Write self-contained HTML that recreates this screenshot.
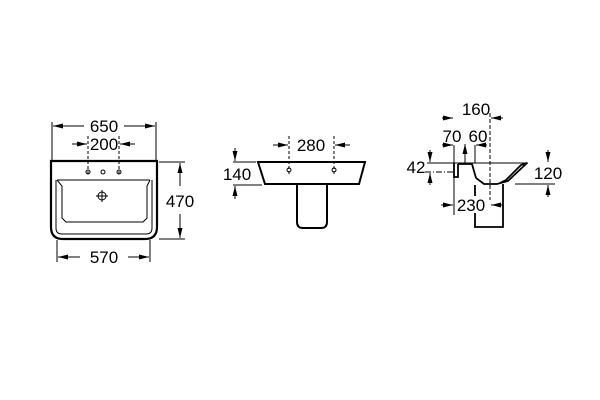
<!DOCTYPE html>
<html><head><style>body{margin:0;background:#fff}svg{display:block}text{font-family:"Liberation Sans",sans-serif;font-size:17px;fill:#000}</style></head><body>
<svg width="600" height="400" viewBox="0 0 600 400">
<defs><marker id="a" viewBox="0 0 10 6" refX="10" refY="3" markerWidth="10" markerHeight="6" markerUnits="userSpaceOnUse" orient="auto-start-reverse"><path d="M0,0.5L10,3L0,5.5z" fill="#000"/></marker></defs>
<g fill="none" stroke="#000" stroke-width="1">
<!-- front view -->
<path d="M51,161H157V227Q157,239 145,239H63Q51,239 51,227Z" stroke-width="2.2"/>
<path d="M57,180H150M57,180L62,186V218L66,222H143L147,218V186L150,180M56,180V228Q56,234 62,234H146Q152,234 152,228V180"/>
<circle cx="102" cy="196" r="4"/><path d="M96,196H108M102,190V202"/>
<circle cx="88" cy="172" r="2"/><circle cx="103" cy="172" r="2"/><circle cx="119" cy="172" r="2"/>
<path d="M52,122V160M156,122V160"/>
<path d="M84,126H53" marker-end="url(#a)"/><path d="M124,126H155" marker-end="url(#a)"/>
<path d="M88,136V175M119,136V175" stroke-dasharray="3,2"/>
<path d="M72,144H87" marker-end="url(#a)"/><path d="M135,144H120" marker-end="url(#a)"/>
<path d="M159,162H185M159,239H185"/>
<path d="M180,186V163" marker-end="url(#a)"/><path d="M180,214V238" marker-end="url(#a)"/>
<path d="M57,240V262M150,240V262"/>
<path d="M80,257H58" marker-end="url(#a)"/><path d="M128,257H149" marker-end="url(#a)"/>
<!-- side view -->
<path d="M258,162H365L359,184H265Z" stroke-width="2"/>
<path d="M297,185V222Q297,228 303,228H321Q327,228 327,222V185" stroke-width="2"/>
<path d="M289,136V174M334,136V174" stroke-dasharray="3,2"/>
<circle cx="289" cy="170" r="2"/><circle cx="334" cy="170" r="2"/>
<path d="M273,145H288" marker-end="url(#a)"/><path d="M350,145H335" marker-end="url(#a)"/>
<path d="M233,162H256M233,185H262"/>
<path d="M235,148V161" marker-end="url(#a)"/><path d="M235,199V186" marker-end="url(#a)"/>
<!-- profile -->
<path d="M427,163H528" />
<path d="M425,172H455" stroke-dasharray="6,2,1,2"/>
<path d="M458,164H472L476,178L484,184H497L508,181L527,163M527,163L521,165L506,180L500,183" stroke-width="1.8"/>
<path d="M454,163V177H458V164" stroke-width="1.8"/>
<path d="M475,185V227H503V184" stroke-width="1.8"/>
<path d="M454,145V215M465,145V163M475,145V163"/>
<path d="M490,113V200" stroke-dasharray="4,2"/>
<path d="M442,118H453" marker-end="url(#a)"/><path d="M503,118H491" marker-end="url(#a)"/>
<path d="M442,145H453" marker-end="url(#a)"/><path d="M465,155V144" marker-end="url(#a)"/><path d="M487,145H476" marker-end="url(#a)"/>
<path d="M430,150V162" marker-end="url(#a)"/><path d="M430,185V173" marker-end="url(#a)"/>
<path d="M515,184H555"/><path d="M548,150V162" marker-end="url(#a)"/><path d="M548,197V185" marker-end="url(#a)"/>
<path d="M441,205H453" marker-end="url(#a)"/><path d="M503,205H491" marker-end="url(#a)"/>
</g>
<text x="104" y="132" text-anchor="middle">650</text>
<text x="104" y="150" text-anchor="middle">200</text>
<rect x="166" y="191" width="28" height="19" fill="#fff"/><text x="180" y="207" text-anchor="middle">470</text>
<text x="104" y="263" text-anchor="middle">570</text>
<text x="311" y="151" text-anchor="middle">280</text>
<text x="237" y="180" text-anchor="middle">140</text>
<text x="476" y="115" text-anchor="middle">160</text>
<text x="452" y="142" text-anchor="middle">70</text>
<text x="478" y="142" text-anchor="middle">60</text>
<text x="416" y="173" text-anchor="middle">42</text>
<text x="548" y="179" text-anchor="middle">120</text>
<rect x="455" y="196" width="33" height="17" fill="#fff"/><text x="471" y="211" text-anchor="middle">230</text>
</svg>
</body></html>
